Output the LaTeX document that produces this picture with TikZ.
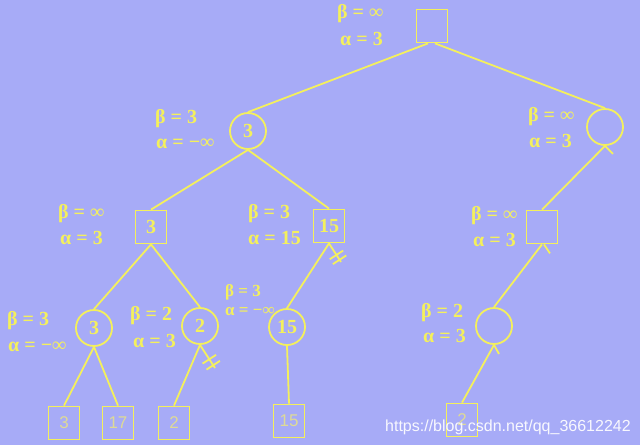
\documentclass[tikz,border=0pt]{standalone}
\usepackage{fontspec}
\setmainfont{Liberation Serif}
\newfontfamily\leaffont{Liberation Sans}
\usetikzlibrary{calc}
\definecolor{bg}{RGB}{167,171,247}
\definecolor{yel}{RGB}{244,240,92}
\definecolor{leafc}{RGB}{222,218,150}
\tikzset{
  ln/.style={draw=yel,line width=1.8pt},
  sq/.style={ln,rectangle,minimum width=31pt,minimum height=33pt,inner sep=0pt,
             text=yel,font=\fontsize{20}{22}\selectfont\bfseries},
  circ/.style={ln,circle,minimum size=36pt,inner sep=0pt,
             text=yel,font=\fontsize{20}{22}\selectfont\bfseries},
  leaf/.style={sq,text=leafc,font=\fontsize{17}{19}\selectfont\leaffont},
  lbl/.style={anchor=base west,inner sep=0pt,text=yel,font=\fontsize{20}{22}\selectfont\bfseries},
  slbl/.style={lbl,font=\fontsize{17}{19}\selectfont\bfseries},
  edge/.style={draw=yel,line width=1.8pt},
}
\begin{document}
\begin{tikzpicture}[x=1pt,y=-1pt]
\fill[bg] (0,0) rectangle (640,445);
\useasboundingbox (0,0) rectangle (640,445);
% nodes
\node[sq] (root) at (432,26) {};
\node[circ] (L) at (248,131) {3};
\node[circ] (R) at (605,127) {};
\node[sq] (A) at (151,227) {3};
\node[sq] (B) at (329,226) {15};
\node[sq] (RA) at (542,227) {};
\node[circ] (C) at (94,328) {3};
\node[circ] (D) at (200,326) {2};
\node[circ] (E) at (287,327) {15};
\node[circ] (RB) at (494,326) {};
\node[leaf] (l1) at (64,423) {3};
\node[leaf] (l2) at (118,423) {17};
\node[leaf] (l3) at (174,423) {2};
\node[leaf] (l4) at (289,421) {15};
\node[leaf] (l5) at (462,420) {2};
% labels
\node[lbl] (t1) at (337,18) {β = ∞};
\node[lbl] (t2) at (340,45) {α = 3};
\node[lbl] (t3) at (155,123) {β = 3};
\node[lbl] (t4) at (156,148) {α = −∞};
\node[lbl] (t5) at (528,121) {β = ∞};
\node[lbl] (t6) at (529,147) {α = 3};
\node[lbl] (t7) at (58,218) {β = ∞};
\node[lbl] (t8) at (60,244) {α = 3};
\node[lbl] (t9) at (248,218) {β = 3};
\node[lbl] (t10) at (248,244) {α = 15};
\node[lbl] (t11) at (471,220) {β = ∞};
\node[lbl] (t12) at (473,246) {α = 3};
\node[lbl] (t13) at (7,325) {β = 3};
\node[lbl] (t14) at (8,351) {α = −∞};
\node[lbl] (t15) at (130,320) {β = 2};
\node[lbl] (t16) at (133,347) {α = 3};
\node[slbl] (t17) at (225,296) {β = 3};
\node[slbl] (t18) at (225,315) {α = −∞};
\node[lbl] (t19) at (421,317) {β = 2};
\node[lbl] (t20) at (423,342) {α = 3};
% edges
\draw[edge] ([xshift=-4pt]root.south) -- (L.north);
\draw[edge] ([xshift=3pt]root.south) -- (R.north);
\draw[edge] (L.south) -- (A.north);
\draw[edge] (L.south) -- (B.north);
\draw[edge] (A.south) -- (C.north);
\draw[edge] (A.south) -- (D.north);
\draw[edge] (B.south) -- (E.north);
\draw[edge] (C.south) -- (l1.north);
\draw[edge] (C.south) -- (l2.north);
\draw[edge] (D.south) -- (l3.north);
\draw[edge] (E.south) -- (l4.north);
\draw[edge] (R.south) -- (RA.north);
\draw[edge] (RA.south) -- (RB.north);
\draw[edge] (RB.south) -- (l5.north);
% pruned branches
\coordinate (Bcut) at (341,262);
\draw[edge] (B.south) -- (Bcut);
\foreach \p in {0.62,0.88}{
  \coordinate (h) at ($(B.south)!\p!(Bcut)$);
  \draw[edge] ($(h)!8pt!90:(Bcut)$) -- ($(h)!8pt!-90:(Bcut)$);
}
\coordinate (Dcut) at (215,368);
\draw[edge] (D.south) -- (Dcut);
\foreach \p in {0.62,0.88}{
  \coordinate (h) at ($(D.south)!\p!(Dcut)$);
  \draw[edge] ($(h)!8pt!90:(Dcut)$) -- ($(h)!8pt!-90:(Dcut)$);
}
% ticks
\draw[edge] (R.south) -- ++(8,8);
\draw[edge] ([xshift=2pt]RA.south) -- ++(6,9);
\draw[edge] (RB.south) -- ++(5,9);
% watermark
\node[anchor=base west,inner sep=0pt,text=white!92!bg,font=\fontsize{16}{18}\selectfont\leaffont] (wm) at (385,431) {https://blog.csdn.net/qq\_36612242};
\end{tikzpicture}
\end{document}
